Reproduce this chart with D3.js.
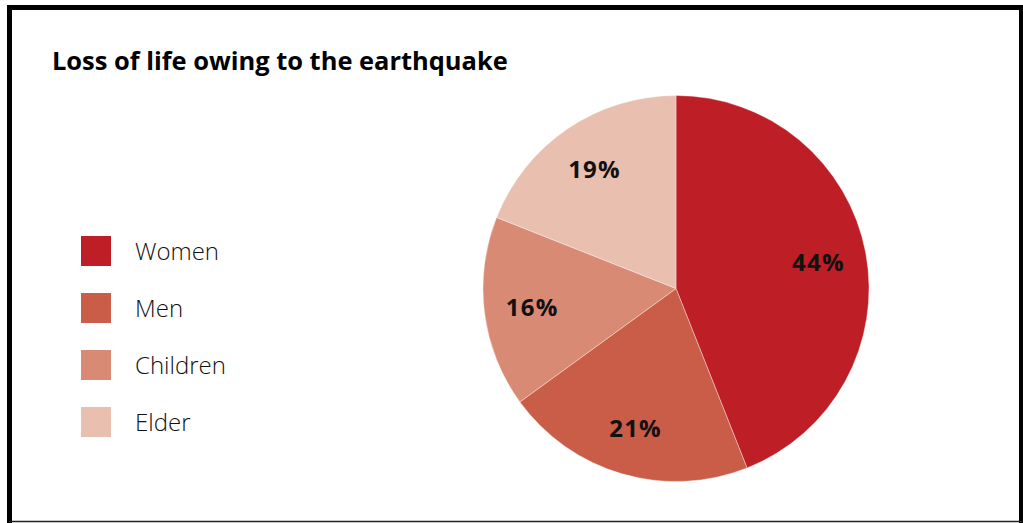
<!DOCTYPE html>
<html>
<head>
<meta charset="utf-8">
<script src="https://cdn.jsdelivr.net/npm/d3@7"></script>
<style>
  html, body { margin: 0; padding: 0; background: #fff; }
  svg { display: block; }
</style>
</head>
<body>
<svg id="chart" width="1023" height="523"></svg>
<script>
// Share of lives lost, by group (percent)
const categories = ["Women", "Men", "Children", "Elder"];
const values = [44, 21, 16, 19];
const colors = ["#be1e25", "#c95d47", "#d98a74", "#e9bfb0"];
const title = "Loss of life owing to the earthquake";

const FONT = "'Open Sans', Lato, sans-serif";
const svg = d3.select("#chart");

// frame
svg.append("rect")
  .attr("x", 9.5).attr("y", 7.5)
  .attr("width", 1012).attr("height", 530)
  .attr("fill", "#fff")
  .attr("stroke", "#000").attr("stroke-width", 5);
svg.append("line")
  .attr("x1", 9).attr("x2", 1023).attr("y1", 521.5).attr("y2", 521.5)
  .attr("stroke", "#222").attr("stroke-width", 1.5);

// title, sized to span its slot
const titleText = svg.append("text")
  .attr("x", 52).attr("y", 70)
  .attr("font-family", FONT)
  .attr("font-weight", 700)
  .attr("font-size", 25)
  .attr("fill", "#000")
  .text(title);
const tw = titleText.node().getComputedTextLength();
titleText.attr("font-size", 25 * 456 / tw);

// pie
const cx = 676, cy = 288.5, r = 193;
const data = categories.map((c, i) => ({ name: c, value: values[i], color: colors[i] }));
const pie = d3.pie().value(d => d.value).sort(null);
const arc = d3.arc().innerRadius(0).outerRadius(r);
const labelArc = d3.arc().innerRadius(145).outerRadius(145);

const g = svg.append("g").attr("transform", `translate(${cx},${cy})`);
const arcs = pie(data);
g.selectAll("path.slice")
  .data(arcs)
  .join("path")
  .attr("class", "slice")
  .attr("d", arc)
  .attr("fill", d => d.data.color)
  .attr("stroke", "rgba(255,255,255,0.45)")
  .attr("stroke-width", 0.8);

g.selectAll("text.pct")
  .data(arcs)
  .join("text")
  .attr("class", "pct")
  .attr("transform", d => `translate(${labelArc.centroid(d)})`)
  .attr("text-anchor", "middle")
  .attr("dy", "0.4em")
  .attr("font-family", FONT)
  .attr("font-weight", 700)
  .attr("font-size", 24)
  .attr("letter-spacing", 1.2)
  .attr("fill", "#111")
  .text(d => d.data.value + "%");

// legend
const legendY = d3.scaleBand().domain(categories).range([236, 464]).paddingInner(0);
const items = svg.append("g").selectAll("g.item")
  .data(data)
  .join("g")
  .attr("class", "item")
  .attr("transform", d => `translate(81,${legendY(d.name)})`);
items.append("rect")
  .attr("width", 30).attr("height", 30)
  .attr("fill", d => d.color);
items.append("text")
  .attr("x", 54).attr("y", 24)
  .attr("font-family", FONT)
  .attr("font-weight", 300)
  .attr("font-size", 24)
  .attr("fill", "#111")
  .text(d => d.name);
</script>
</body>
</html>
